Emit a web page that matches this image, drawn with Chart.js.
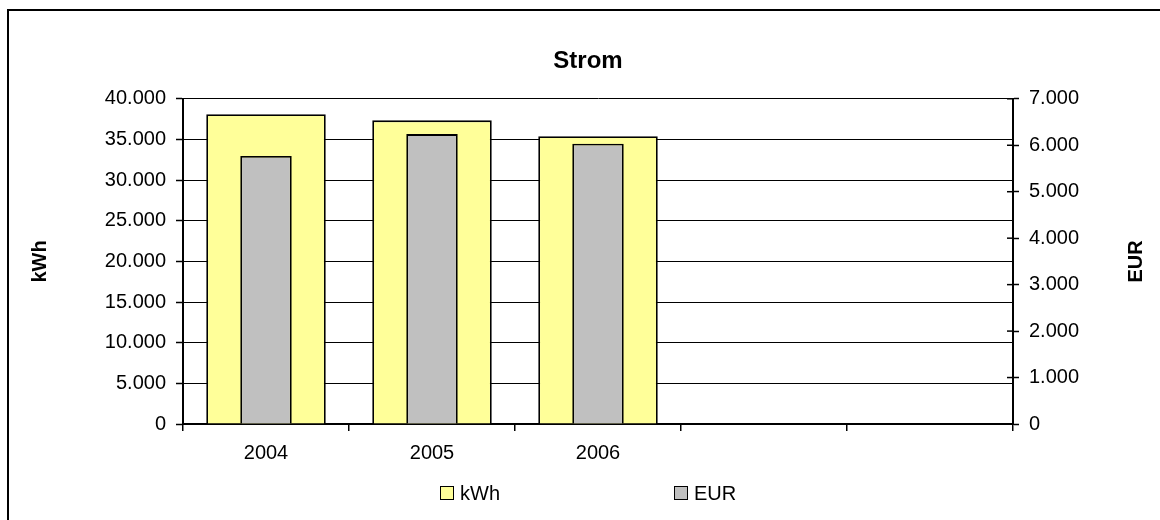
<!DOCTYPE html>
<html>
<head>
<meta charset="utf-8">
<script src="https://cdn.jsdelivr.net/npm/chart.js"></script>
<style>
  body { margin: 0; background: #fff; }
  #wrap { position: relative; width: 1160px; height: 520px; }
  #legend { position: absolute; top: 481px; left: 0; width: 1160px; height: 24px;
            font-family: "Liberation Sans", Arial, sans-serif; font-size: 20px; color: #000; }
  .item { position: absolute; top: 0; height: 24px; display: flex; align-items: center; }
  .box { width: 12px; height: 12px; border: 1.5px solid #000; margin-right: 6px; }
</style>
</head>
<body>
<div id="wrap">
  <canvas id="chart" width="1160" height="520"></canvas>
  <div id="legend"></div>
</div>
<script>
// chart data
const years = ['2004', '2005', '2006', '', ''];
const kwhValues = [38100, 37350, 35400, null, null];
const eurValues = [5770, 6240, 6035, null, null];
const kwhTicks = [0, 5000, 10000, 15000, 20000, 25000, 30000, 35000, 40000];
const eurTicks = [0, 1000, 2000, 3000, 4000, 5000, 6000, 7000];
const seriesNames = ['kWh', 'EUR'];

const fontFamily = '"Liberation Sans", Arial, sans-serif';

function formatDe(v) {
  return String(v).replace(/\B(?=(\d{3})+(?!\d))/g, '.');
}

// outer frame, only left and top edges are inside the picture
const framePlugin = {
  id: 'frame',
  beforeDraw(chart) {
    const ctx = chart.ctx;
    ctx.save();
    ctx.fillStyle = '#fff';
    ctx.fillRect(0, 0, chart.width, chart.height);
    ctx.strokeStyle = '#000';
    ctx.lineWidth = 2;
    ctx.strokeRect(8, 10, chart.width + 40, chart.height + 40);
    ctx.restore();
  },
  afterDraw(chart) {
    const s = chart.scales.y2;
    const ctx = chart.ctx;
    ctx.save();
    // right axis ticks cross the axis line
    ctx.strokeStyle = '#000';
    ctx.lineWidth = 1.5;
    s.ticks.forEach(t => {
      const y = s.getPixelForValue(t.value);
      ctx.beginPath();
      ctx.moveTo(s.left - 6, y);
      ctx.lineTo(s.left, y);
      ctx.stroke();
    });
    // right axis title reads bottom to top, like the left one
    ctx.fillStyle = '#000';
    ctx.font = 'bold 20px ' + fontFamily;
    ctx.textAlign = 'center';
    ctx.textBaseline = 'middle';
    ctx.translate(s.right - 24, (s.top + s.bottom) / 2);
    ctx.rotate(-Math.PI / 2);
    ctx.fillText(seriesNames[1], 0, 0);
    ctx.restore();
  }
};

const ctx = document.getElementById('chart').getContext('2d');

const chart = new Chart(ctx, {
  type: 'bar',
  data: {
    labels: years,
    datasets: [
      {
        label: seriesNames[0],
        data: kwhValues,
        yAxisID: 'y',
        backgroundColor: '#FFFF99',
        borderColor: '#000',
        borderWidth: 1.8,
        barPercentage: 0.72,
        categoryPercentage: 1,
        grouped: false,
        order: 2
      },
      {
        label: seriesNames[1],
        data: eurValues,
        yAxisID: 'y2',
        backgroundColor: '#C0C0C0',
        borderColor: '#000',
        borderWidth: 1.8,
        barPercentage: 0.31,
        categoryPercentage: 1,
        grouped: false,
        order: 1
      }
    ]
  },
  options: {
    responsive: false,
    animation: false,
    layout: { padding: { left: 16, right: 0, top: 10, bottom: 0 } },
    plugins: {
      legend: { display: false },
      tooltip: { enabled: false },
      title: {
        display: true,
        text: 'Strom',
        color: '#000',
        font: { family: fontFamily, size: 24, weight: 'bold' },
        padding: { top: 37, bottom: 23 }
      }
    },
    scales: {
      x: {
        grid: {
          offset: true,
          drawOnChartArea: false,
          color: '#000',
          lineWidth: 1.5,
          tickLength: 7
        },
        border: { color: '#000', width: 2 },
        ticks: {
          color: '#000',
          font: { family: fontFamily, size: 20 },
          padding: 10,
          maxRotation: 0
        },
        afterFit(scale) { scale.height = 96; }
      },
      y: {
        position: 'left',
        min: 0,
        max: 40000,
        afterBuildTicks(scale) { scale.ticks = kwhTicks.map(v => ({ value: v })); },
        grid: { color: '#000', lineWidth: 1, tickLength: 7, tickColor: '#000', tickWidth: 1.5 },
        border: { color: '#000', width: 2 },
        ticks: {
          color: '#000',
          font: { family: fontFamily, size: 20 },
          padding: 10,
          callback: v => formatDe(v)
        },
        title: {
          display: true,
          text: seriesNames[0],
          color: '#000',
          font: { family: fontFamily, size: 20, weight: 'bold' },
          padding: { top: 12, bottom: 0 }
        },
        afterFit(scale) { scale.width = 167; }
      },
      y2: {
        position: 'right',
        min: 0,
        max: 7000,
        afterBuildTicks(scale) { scale.ticks = eurTicks.map(v => ({ value: v })); },
        grid: { drawOnChartArea: false, color: '#000', tickLength: 6, tickWidth: 1.5 },
        border: { color: '#000', width: 2 },
        ticks: {
          color: '#000',
          font: { family: fontFamily, size: 20 },
          padding: 10,
          callback: v => formatDe(v)
        },
        afterFit(scale) { scale.width = 147; }
      }
    }
  },
  plugins: [framePlugin]
});

// legend drawn as html, spaced like the original
const legendLeft = [440, 674];
const legendEl = document.getElementById('legend');
chart.data.datasets.forEach((ds, i) => {
  const item = document.createElement('div');
  item.className = 'item';
  item.style.left = legendLeft[i] + 'px';
  item.innerHTML = '<span class="box" style="background:' + ds.backgroundColor + '"></span>' + ds.label;
  legendEl.appendChild(item);
});
</script>
</body>
</html>
